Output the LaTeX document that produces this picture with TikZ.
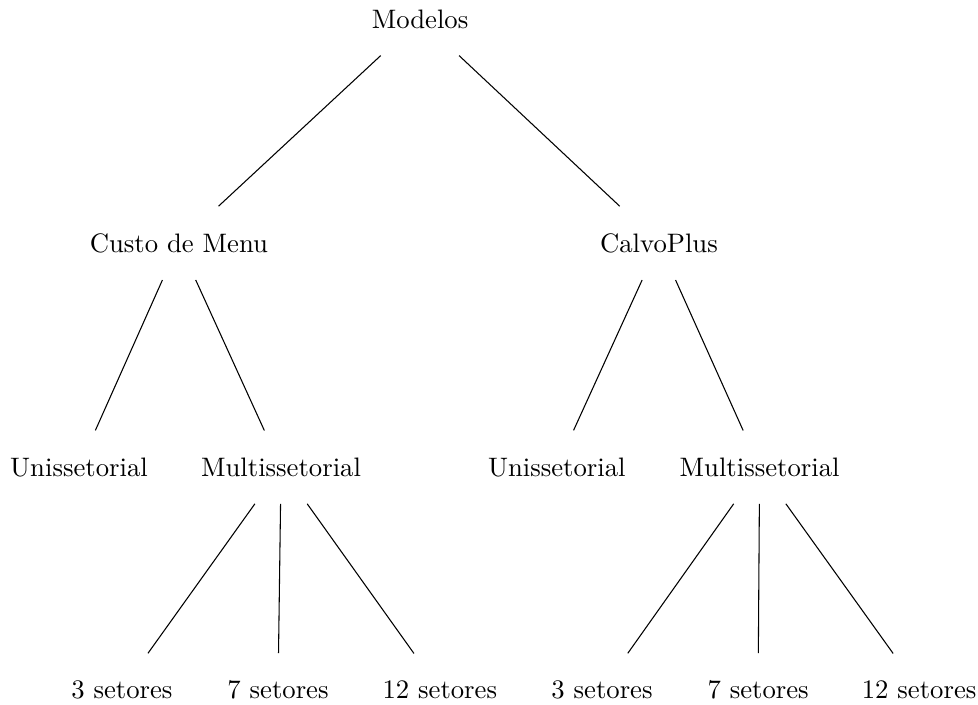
\documentclass[tikz,border=0pt]{standalone}
\usepackage{tikz}

\begin{document}
\begin{tikzpicture}[every node/.style={inner ysep=10pt}]
   \useasboundingbox (0,0) rectangle (12.875,-9.27);
   \node (mod) at (5.53,-0.25) {Modelos};
   \node (cm) at (2.355,-3.2) {Custo de Menu};
   \node (cp) at (8.675,-3.2) {CalvoPlus};
   \node (cmu) at (1.04,-6.15) {Unissetorial};
   \node (cmm) at (3.7,-6.15) {Multissetorial};
   \node (cpu) at (7.33,-6.15) {Unissetorial};
   \node (cpm) at (10.0,-6.15) {Multissetorial};
   \node (cm3) at (1.605,-9.08) {3 setores};
   \node (cm7) at (3.66,-9.08) {7 setores};
   \node (cm12) at (5.79,-9.08) {12 setores};
   \node (cp3) at (7.925,-9.08) {3 setores};
   \node (cp7) at (9.98,-9.08) {7 setores};
   \node (cp12) at (12.1,-9.08) {12 setores};
   \path (mod) edge (cm);
   \path (mod) edge (cp);
   \path (cm) edge (cmu);
   \path (cm) edge (cmm);
   \path (cp) edge (cpu);
   \path (cp) edge (cpm);
   
   \path (cmm) edge (cm3);
   \path (cmm) edge (cm7);
   \path (cmm) edge (cm12);
   \path (cpm) edge (cp3);
   \path (cpm) edge (cp7);
   \path (cpm) edge (cp12);

\end{tikzpicture}
\end{document}
